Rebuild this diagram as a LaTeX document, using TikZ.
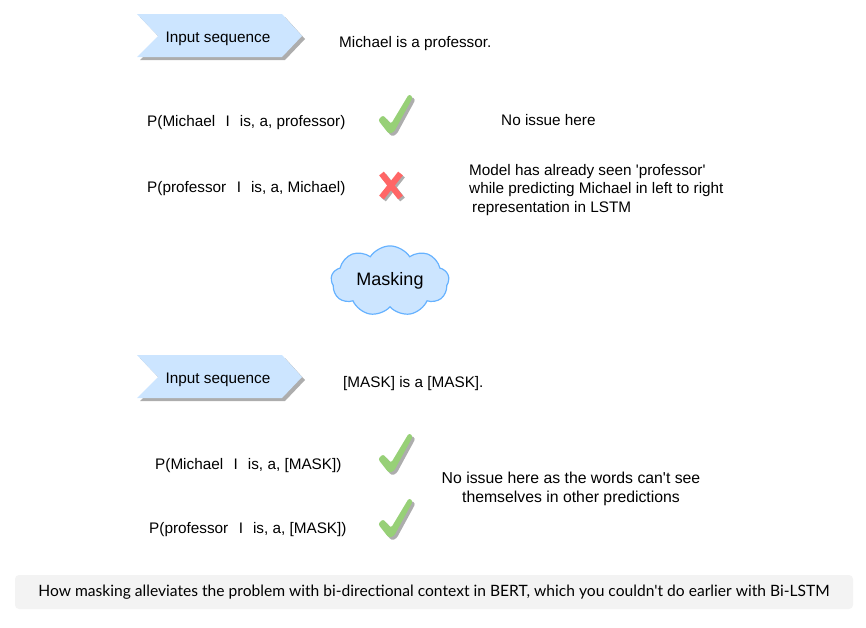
\documentclass[tikz,border=0pt]{standalone}
\usepackage{fontspec}
\setmainfont{Liberation Sans}
\newfontfamily\capfont{Lato}
\usetikzlibrary{shapes.symbols}
\definecolor{stepblue}{HTML}{CCE5FF}
\definecolor{cloudline}{HTML}{66B2FF}
\definecolor{okgreen}{HTML}{97D077}
\definecolor{badred}{HTML}{FF6666}
\definecolor{shadowgray}{HTML}{ADADAD}
\definecolor{capbg}{HTML}{F3F3F3}
\tikzset{
  txt/.style={font=\fontsize{15.3}{18}\selectfont, inner sep=0pt, anchor=base west},
  stepbox/.pic={
    \fill[shadowgray] (3,3) -- (148,3) -- (168,25) -- (148,46) -- (3,46) -- (24,25) -- cycle;
    \fill[stepblue] (0,0) -- (145,0) -- (165,22) -- (145,43) -- (0,43) -- (21,22) -- cycle;
  },
  checkmk/.pic={
    \fill[shadowgray, rounded corners=2.5pt] ([shift={(2.5,2.5)}]-18,6) -- ([shift={(2.5,2.5)}]-13,1) -- ([shift={(2.5,2.5)}]-5,10) -- ([shift={(2.5,2.5)}]13,-20) -- ([shift={(2.5,2.5)}]17,-17) -- ([shift={(2.5,2.5)}]-2,18) -- ([shift={(2.5,2.5)}]-7,20) -- cycle;
    \fill[okgreen, rounded corners=2.5pt] (-18,6) -- (-13,1) -- (-5,10) -- (13,-20) -- (17,-17) -- (-2,18) -- (-7,20) -- cycle;
  },
  crossmk/.pic={
    \draw[shadowgray, line width=6pt] (-7.5,-9.5) -- (11.5,14.5) (11.5,-9.5) -- (-7.5,14.5);
    \draw[badred, line width=6pt] (-9.5,-11.5) -- (9.5,12.5) (9.5,-11.5) -- (-9.5,12.5);
  }
}
\begin{document}
\begin{tikzpicture}[x=1pt,y=-1pt]
\useasboundingbox (0,0) rectangle (866,627);
% top chevron
\pic (step1) at (137,14) {stepbox};
\node[font=\fontsize{15.3}{18}\selectfont, inner sep=0pt] (in1) at (218,39) {Input sequence};
\node[txt] (seq1) at (339,47.5) {Michael is a professor.};
\node[txt] (p1) at (147,126) {P(Michael\hspace{10.5pt}I\hspace{10pt}is, a, professor)};
\pic (ck1) at (396,114) {checkmk};
\node[txt] (ok1) at (501,125) {No issue here};
\node[txt] (p2) at (147,192) {P(professor\hspace{10.5pt}I\hspace{10pt}is, a, Michael)};
\pic (x1) at (391,185) {crossmk};
\node[font=\fontsize{15.3}{18.5}\selectfont, inner sep=0pt, anchor=north west, align=left] (model) at (469,164) {Model has already seen \textquotesingle professor\textquotesingle\\while predicting Michael in left to right\\\hspace{3pt}representation in LSTM};
% cloud
\node[cloud, cloud puffs=9, cloud puff arc=115, aspect=1.7, draw=cloudline, fill=stepblue, line width=1.2pt, minimum width=118pt, minimum height=70pt, inner sep=0pt, font=\fontsize{18}{21}\selectfont] (mask) at (390,281) {Masking};
% lower chevron
\pic (step2) at (137,355) {stepbox};
\node[font=\fontsize{15.3}{18}\selectfont, inner sep=0pt] (in2) at (218,380) {Input sequence};
\node[txt] (seq2) at (343,387) {[MASK] is a [MASK].};
\node[txt] (p3) at (155,469) {P(Michael\hspace{10.5pt}I\hspace{10pt}is, a, [MASK])};
\pic (ck2) at (396,453) {checkmk};
\node[font=\fontsize{15.8}{19}\selectfont, inner sep=0pt, anchor=north, align=center] (ok2) at (571,471.5) {No issue here as the words can\textquotesingle t see\\themselves in other predictions};
\node[txt] (p4) at (149,533) {P(professor\hspace{10.5pt}I\hspace{10pt}is, a, [MASK])};
\pic (ck3) at (396,518) {checkmk};
% caption
\fill[capbg, rounded corners=4pt] (15,575) rectangle (853,609);
\node[font=\capfont\fontsize{15.6}{17}\selectfont, inner sep=0pt] (cap) at (434,592) {How masking alleviates the problem with bi-directional context in BERT, which you couldn\textquotesingle t do earlier with Bi-LSTM};
\end{tikzpicture}
\end{document}
